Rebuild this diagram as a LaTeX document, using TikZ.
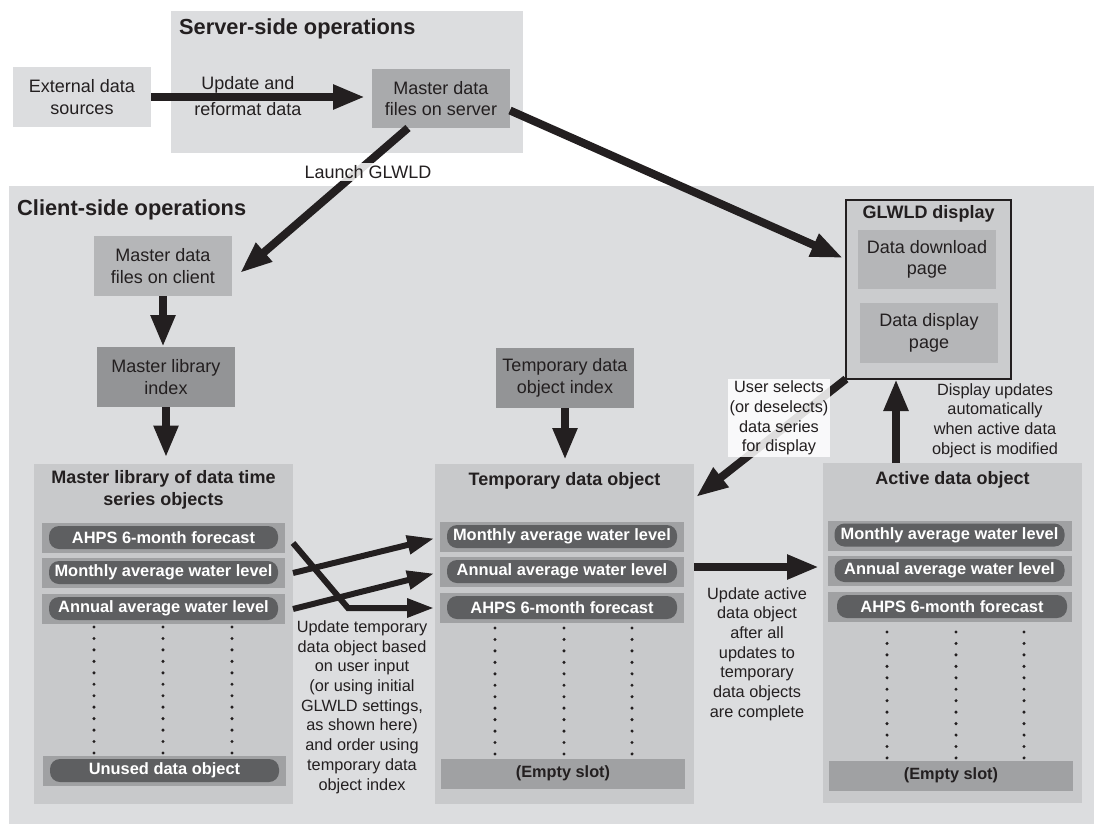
\documentclass[tikz,border=0pt]{standalone}
\usepackage{fontspec}
\setmainfont{Liberation Sans}
\usetikzlibrary{arrows.meta}
\newcommand\fsz[2]{\fontsize{#1}{#2}\selectfont}
\definecolor{ink}{HTML}{231F20}
\definecolor{bglight}{HTML}{DCDDDF}
\definecolor{cont}{HTML}{C8C9CB}
\definecolor{stripc}{HTML}{A0A1A3}
\definecolor{pillc}{HTML}{5E5F61}
\definecolor{boxmid}{HTML}{B5B6B8}
\definecolor{boxsrv}{HTML}{A9AAAC}
\definecolor{boxdark}{HTML}{939496}
\definecolor{glw}{HTML}{CBCCCE}
\tikzset{
  region/.style={fill=bglight, draw=none, inner sep=0, outer sep=0},
  box/.style={inner sep=0, outer sep=0, align=center, text=ink, font=\fsz{18}{21.6}},
  container/.style={fill=cont, inner sep=0, outer sep=0, minimum width=259pt, minimum height=340pt},
  stripbox/.style={fill=stripc, inner sep=0, outer sep=0, minimum width=244pt, minimum height=30pt},
  pill/.style={fill=pillc, rounded corners=10pt, inner sep=0, outer sep=0, minimum width=230pt, minimum height=23pt, text=white, font={\bfseries\fsz{16.4}{19}}},
  ctitle/.style={align=center, text=ink, inner sep=0, font={\bfseries\fsz{18}{22}}},
  heading/.style={anchor=base west, inner sep=0, text=ink, font={\bfseries\fsz{21.8}{26}}},
  note/.style={align=center, text=ink, font=\fsz{16.3}{19.7}, inner sep=2pt},
  bigarrow/.style={draw=ink, line width=8pt, -{Triangle[length=32pt,width=23pt]}},
  smallarrow/.style={draw=ink, line width=6pt, -{Triangle[length=27pt,width=18pt]}},
  dotcol/.style={fill=ink}
}
\begin{document}
\begin{tikzpicture}[x=1pt,y=-1pt]
\useasboundingbox (0,0) rectangle (1094,824);
% regions
\node[region, minimum width=352pt, minimum height=142pt] (srv) at (347,82) {};
\node[region, minimum width=1085pt, minimum height=638pt] (cli) at (551.5,505) {};
\node[heading] (srvt) at (179,35) {Server-side operations};
\node[heading] (clit) at (17,215) {Client-side operations};
% top boxes
\node[box, fill=bglight, minimum width=138pt, minimum height=60pt] (ext) at (82,97) {External data\\sources};
\node[box, fill=boxsrv, minimum width=138pt, minimum height=59pt] (msrv) at (441,98.5) {Master data\\files on server};
\node[box, fill=boxmid, minimum width=138pt, minimum height=60pt] (mclient) at (163,266) {Master data\\files on client};
\node[box, fill=boxdark, minimum width=138pt, minimum height=60pt] (mlidx) at (166,377) {Master library\\index};
\node[box, fill=boxdark, minimum width=138pt, minimum height=60pt] (tidx) at (565,378) {Temporary data\\object index};
% GLWLD display
\node[draw=ink, line width=2pt, fill=glw, minimum width=165pt, minimum height=179pt, inner sep=0, outer sep=0] (glwld) at (928.5,289.5) {};
\node[ctitle] (glwldt) at (928.5,214) {GLWLD display};
\node[box, fill=boxmid, minimum width=138pt, minimum height=59pt] (ddl) at (927,259.5) {Data download\\page};
\node[box, fill=boxmid, minimum width=138pt, minimum height=60pt] (ddp) at (929,333) {Data display\\page};
% containers
\node[container] (mlib) at (163.5,633.5) {};
\node[container] (temp) at (564.5,634) {};
\node[container] (active) at (952.5,633) {};
\node[ctitle] (mlibt) at (163.5,490) {Master library of data time\\series objects};
\node[ctitle] (tempt) at (564.5,481) {Temporary data object};
\node[ctitle] (activet) at (952.5,480) {Active data object};
% master library rows
\node[stripbox, minimum width=243pt] (m1) at (163.5,538) {};
\node[stripbox, minimum width=243pt] (m2) at (163.5,573) {};
\node[stripbox, minimum width=243pt] (m3) at (163.5,609) {};
\node[stripbox, minimum width=243pt] (m4) at (164.5,771) {};
\node[pill, minimum width=229pt] (m1p) at (163.5,537.5) {AHPS 6-month forecast};
\node[pill, minimum width=229pt] (m2p) at (163.5,572.5) {Monthly average water level};
\node[pill, minimum width=229pt] (m3p) at (163.5,608.5) {Annual average water level};
\node[pill, minimum width=229pt] (m4p) at (164.5,770.5) {Unused data object};
% temporary rows
\node[stripbox] (t1) at (562,537) {};
\node[stripbox] (t2) at (562,572) {};
\node[stripbox] (t3) at (562,608) {};
\node[stripbox, font={\bfseries\fsz{16.3}{19}}, text=ink] (t4) at (563,773.5) {(Empty slot)};
\node[pill] (t1p) at (562,536.5) {Monthly average water level};
\node[pill] (t2p) at (562,571.5) {Annual average water level};
\node[pill] (t3p) at (562,607.5) {AHPS 6-month forecast};
% active rows
\node[stripbox] (a1) at (950,535.5) {};
\node[stripbox] (a2) at (950,571) {};
\node[stripbox] (a3) at (950,607) {};
\node[stripbox, font={\bfseries\fsz{16.3}{19}}, text=ink] (a4) at (951,775.5) {(Empty slot)};
\node[pill] (a1p) at (949.5,535) {Monthly average water level};
\node[pill] (a2p) at (949.5,570.5) {Annual average water level};
\node[pill] (a3p) at (952,606.5) {AHPS 6-month forecast};
% dots
\foreach \x in {94,163,232} \foreach \k in {0,...,11} \fill[dotcol] (\x,627+\k*11.45) circle (1.7pt);
\foreach \x in {495,564,632} \foreach \k in {0,...,11} \fill[dotcol] (\x,628+\k*11.45) circle (1.7pt);
\foreach \x in {887,956,1024} \foreach \k in {0,...,11} \fill[dotcol] (\x,632+\k*11.45) circle (1.7pt);
% arrows
\draw[bigarrow, shorten >=7pt] (ext.east) -- (ext.east -| msrv.west);
\draw[bigarrow] ([xshift=-33pt]msrv.south) -- ([xshift=8pt,yshift=-7pt]mclient.east);
\draw[bigarrow] ([yshift=-12pt]msrv.east) -- ([xshift=-3pt,yshift=31.5pt]glwld.west);
\draw[bigarrow] (mclient.south) -- (mclient.south |- mlidx.north);
\draw[bigarrow, shorten >=6pt] (mlidx.south) -- (mlidx.south |- mlib.north);
\draw[bigarrow, shorten >=4pt] (tidx.south) -- (tidx.south |- temp.north);
\draw[bigarrow] (glwld.south west) -- ([xshift=2pt,yshift=-33pt]temp.north east);
\coordinate (upbase) at ([xshift=-56.5pt]active.north);
\draw[bigarrow] (upbase) -- (upbase |- glwld.south);
\coordinate (tmpout) at ([yshift=67pt]temp.east);
\draw[bigarrow, shorten >=4pt] (tmpout) -- (tmpout -| active.west);
\path (m1.east -| mlib.east) ++(0,5) coordinate (s1);
\draw[smallarrow, line join=miter, shorten >=6pt] (s1) -- ([xshift=-92pt]t3.west) -- (t3.west);
\draw[smallarrow, shorten >=6pt] (mlib.east |- m2.east) -- (t1.west);
\draw[smallarrow, shorten >=6pt] (mlib.east |- m3.east) -- (t2.west);
% labels
\node[note, font=\fsz{18}{26}] (updlbl) at (248,96) {Update and\\reformat data};
\node[note, fill=white, fill opacity=0.85, text opacity=1, font=\fsz{18}{21}] (launch) at (368,172) {Launch GLWLD};
\node[note, fill=white, fill opacity=0.85, text opacity=1] (usel) at (779,418) {User selects\\(or deselects)\\data series\\for display};
\node[note] (dupd) at (995,420.5) {Display updates\\automatically\\when active data\\object is modified};
\node[note] (uact) at (757,654) {Update active\\data object\\after all\\updates to\\temporary\\data objects\\are complete};
\node[note] (utmp) at (362,707) {Update temporary\\data object based\\on user input\\(or using initial\\GLWLD settings,\\as shown here)\\and order using\\temporary data\\object index};
\end{tikzpicture}
\end{document}
